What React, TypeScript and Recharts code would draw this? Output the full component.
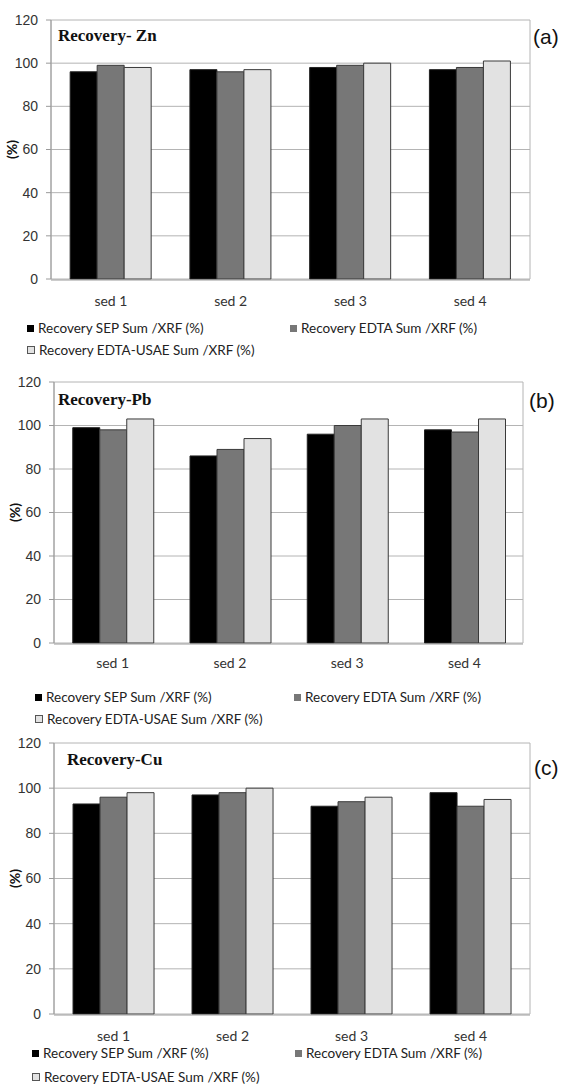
import React from 'react'
import { Bar, BarChart, CartesianGrid, XAxis, YAxis } from 'recharts'

const categories = ['sed 1', 'sed 2', 'sed 3', 'sed 4']
const seriesNames = [
  'Recovery SEP Sum /XRF (%)',
  'Recovery EDTA Sum /XRF (%)',
  'Recovery EDTA-USAE Sum /XRF (%)',
]
const seriesColors = ['#000000', '#777777', '#e2e2e2']

const znSep = [96, 97, 98, 97]
const znEdta = [99, 96, 99, 98]
const znUsae = [98, 97, 100, 101]

const pbSep = [99, 86, 96, 98]
const pbEdta = [98, 89, 100, 97]
const pbUsae = [103, 94, 103, 103]

const cuSep = [93, 97, 92, 98]
const cuEdta = [96, 98, 94, 92]
const cuUsae = [98, 100, 96, 95]

const yTicks = [0, 20, 40, 60, 80, 100, 120]
const edgeTicks = [0, 1, 2, 3, 4]

const W = 565
const GRID = '#b4b4b4'
const AXIS = '#9a9a9a'

type PanelProps = {
  title: string
  tag: string
  sep: number[]
  edta: number[]
  usae: number[]
  top: number
  plotH: number
  bottom: number
  left: number
  right: number
  labelGap: number
  titlePos: [number, number]
  tagPos: [number, number]
  legendLeft: number
  legendCol2: number
  legendMt: number
  legendLh: number
}

function Panel(p: PanelProps) {
  const data = categories.map((name, i) => ({
    name,
    sep: p.sep[i],
    edta: p.edta[i],
    usae: p.usae[i],
  }))
  const yw = 44
  const h = p.top + p.plotH + p.bottom

  return (
    <div style={{ position: 'relative', width: W }}>
      <BarChart
        width={W}
        height={h}
        data={data}
        barCategoryGap="16%"
        barGap={0}
        margin={{ top: p.top, right: W - p.right, left: p.left - yw, bottom: p.bottom - 2 }}
      >
        <CartesianGrid
          stroke={GRID}
          vertical={true}
          verticalCoordinatesGenerator={({ offset }: any) => [
            offset.left,
            offset.left + offset.width,
          ]}
        />
        {/* both axes are 1px tall so they sit on the plot bottom whatever the stacking order */}
        <XAxis
          xAxisId="edge"
          type="number"
          domain={[0, 4]}
          ticks={edgeTicks}
          height={1}
          tick={false}
          tickSize={5}
          stroke={AXIS}
          allowDataOverflow
        />
        <XAxis
          xAxisId="cat"
          dataKey="name"
          height={1}
          axisLine={false}
          tickLine={false}
          tickSize={0}
          tickMargin={p.labelGap}
          tick={{ fontSize: 14, fill: '#333', fontFamily: 'Lato' }}
        />
        <YAxis
          width={yw}
          domain={[0, 120]}
          ticks={yTicks}
          tickSize={5}
          tickMargin={8}
          stroke={AXIS}
          tick={{ fontSize: 14, fill: '#333', fontFamily: 'Liberation Sans' }}
          label={{
            value: '(%)',
            angle: -90,
            position: 'insideLeft',
            offset: 5,
            style: {
              textAnchor: 'middle',
              fontFamily: 'Lato',
              fontWeight: 'bold',
              fontSize: 14,
              fill: '#111',
            },
          }}
        />
        <Bar xAxisId="cat" dataKey="sep" fill={seriesColors[0]} stroke="#222" isAnimationActive={false} />
        <Bar xAxisId="cat" dataKey="edta" fill={seriesColors[1]} stroke="#3a3a3a" isAnimationActive={false} />
        <Bar xAxisId="cat" dataKey="usae" fill={seriesColors[2]} stroke="#3a3a3a" isAnimationActive={false} />
      </BarChart>

      <div
        style={{
          position: 'absolute',
          left: p.titlePos[0],
          top: p.titlePos[1] - 8.5,
          fontFamily: 'Liberation Serif',
          fontWeight: 'bold',
          fontSize: 17,
          lineHeight: '17px',
          color: '#111',
          whiteSpace: 'nowrap',
        }}
      >
        {p.title}
      </div>
      <div
        style={{
          position: 'absolute',
          left: p.tagPos[0],
          top: p.tagPos[1] - 10.5,
          fontFamily: 'Liberation Sans',
          fontSize: 21,
          lineHeight: '21px',
          color: '#111',
        }}
      >
        {p.tag}
      </div>

      <div
        style={{
          display: 'grid',
          gridTemplateColumns: `${p.legendCol2 - p.legendLeft}px 1fr`,
          paddingLeft: p.legendLeft,
          marginTop: p.legendMt,
          fontFamily: 'Lato',
          fontSize: 13.5,
          lineHeight: `${p.legendLh}px`,
          color: '#222',
        }}
      >
        {seriesNames.map((name, i) => (
          <span key={name} style={{ display: 'inline-flex', alignItems: 'center', gap: 4, whiteSpace: 'nowrap' }}>
            <span
              style={{
                width: i === 2 ? 6 : 7,
                height: i === 2 ? 6 : 7,
                background: seriesColors[i],
                border: i === 2 ? '1px solid #555' : 'none',
              }}
            />
            {name}
          </span>
        ))}
      </div>
    </div>
  )
}

export default function App() {
  return (
    <div style={{ position: 'absolute', left: 0, top: 0, width: W, height: 1084, background: '#fff' }}>
      <div style={{ height: 361 }}>
        <Panel
          title="Recovery- Zn"
          tag="(a)"
          sep={znSep}
          edta={znEdta}
          usae={znUsae}
          top={20}
          plotH={259}
          bottom={30}
          left={51}
          right={530}
          labelGap={17}
          titlePos={[58, 35]}
          tagPos={[533, 36]}
          legendLeft={27}
          legendCol2={290}
          legendMt={8}
          legendLh={22}
        />
      </div>
      <div style={{ height: 369 }}>
        <Panel
          title="Recovery-Pb"
          tag="(b)"
          sep={pbSep}
          edta={pbEdta}
          usae={pbUsae}
          top={21}
          plotH={261}
          bottom={30}
          left={54}
          right={523}
          labelGap={15}
          titlePos={[58, 38]}
          tagPos={[529, 39]}
          legendLeft={35}
          legendCol2={294}
          legendMt={13}
          legendLh={22}
        />
      </div>
      <div>
        <Panel
          title="Recovery-Cu"
          tag="(c)"
          sep={cuSep}
          edta={cuEdta}
          usae={cuUsae}
          top={13}
          plotH={271}
          bottom={33}
          left={54}
          right={530}
          labelGap={17}
          titlePos={[67, 29]}
          tagPos={[534, 37]}
          legendLeft={32}
          legendCol2={295}
          legendMt={-6}
          legendLh={24}
        />
      </div>
    </div>
  )
}
